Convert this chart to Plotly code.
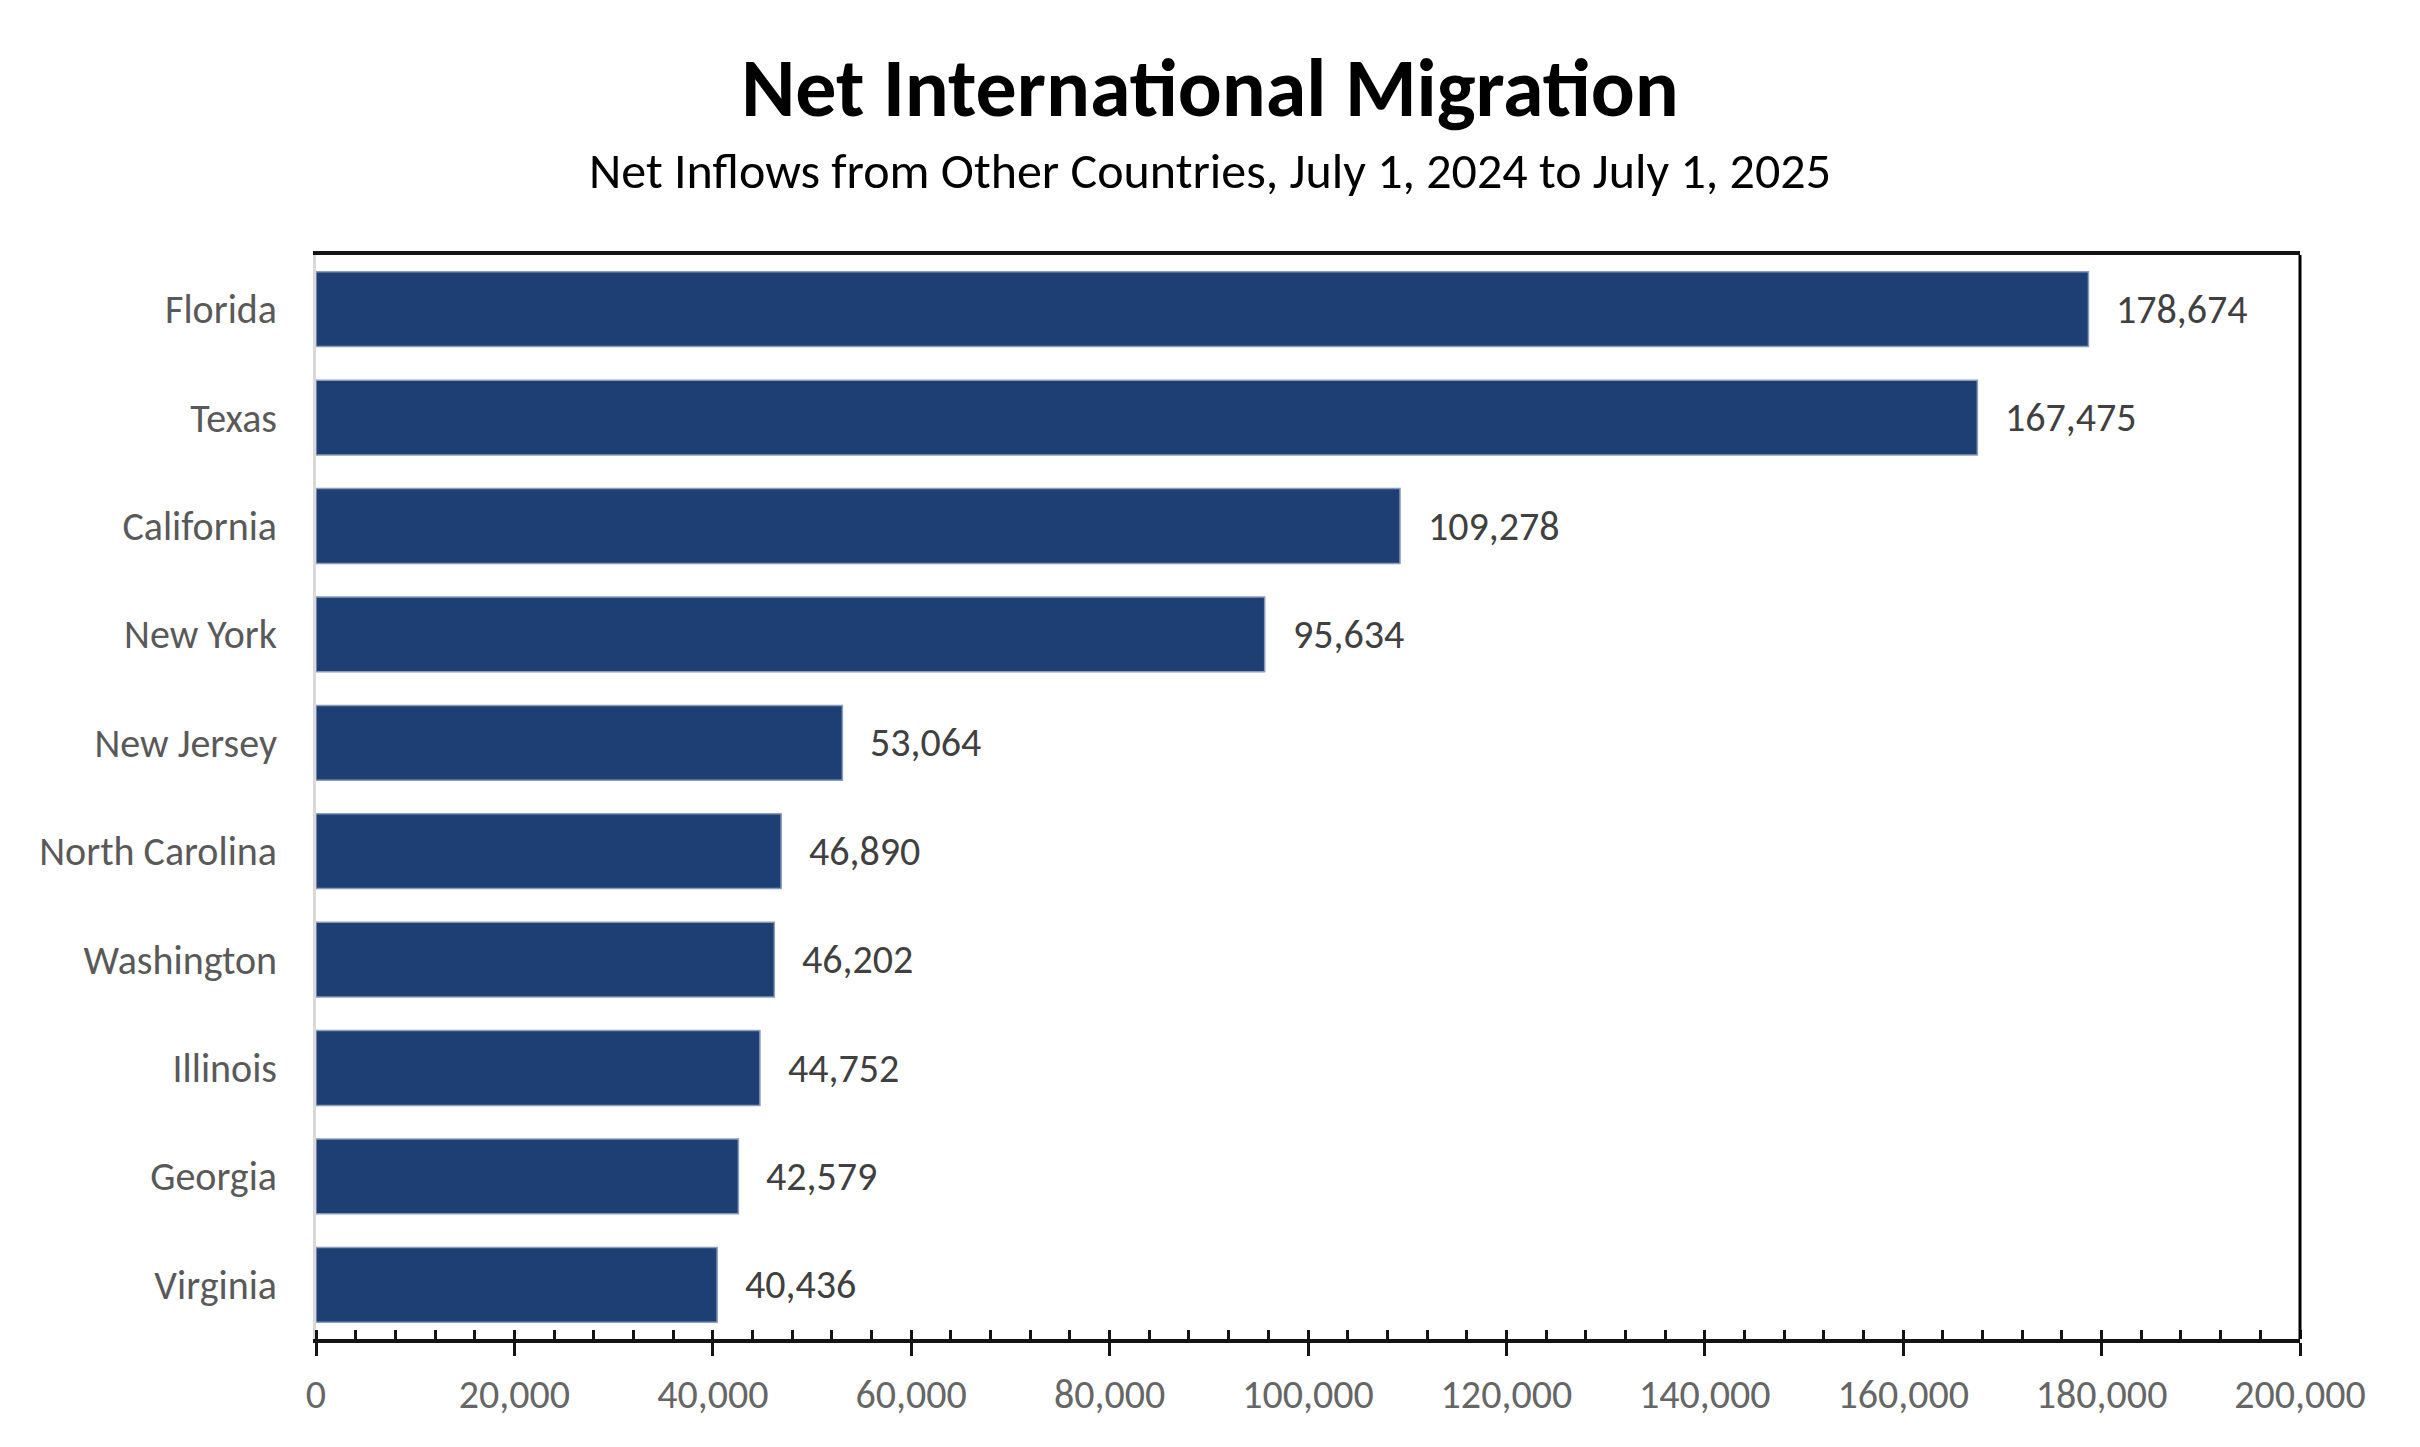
import plotly.graph_objects as go

states = ["Florida", "Texas", "California", "New York", "New Jersey",
          "North Carolina", "Washington", "Illinois", "Georgia", "Virginia"]
net_migration = [178674, 167475, 109278, 95634, 53064,
                 46890, 46202, 44752, 42579, 40436]
tick_values = [0, 20000, 40000, 60000, 80000, 100000, 120000, 140000, 160000, 180000, 200000]

FONT = "Calibri, Carlito, Lato, sans-serif"
W, H = 2404, 1431
ML, MR, MT, MB = 308, 112, 247, 100

fig = go.Figure()
fig.add_trace(go.Bar(
    x=net_migration, y=states, orientation="h",
    marker=dict(color="#1E3F73", line=dict(color="#8A9CBA", width=1.5)),
    hoverinfo="skip",
))

for s, v in zip(states, net_migration):
    fig.add_annotation(x=v, y=s, xref="x", yref="y", text=f"{v:,}",
                       showarrow=False, xanchor="left", yanchor="middle",
                       xshift=26, font=dict(family=FONT, size=40, color="#404040"))

fig.update_layout(
    width=W, height=H,
    paper_bgcolor="white", plot_bgcolor="white",
    margin=dict(l=ML, r=MR, t=MT, b=MB, autoexpand=False),
    bargap=0.31,
    showlegend=False,
    title=dict(text="<b>Net International Migration</b>", x=0.5, xanchor="center",
               xref="container",
               y=1 - 79 / H, yanchor="middle", yref="container",
               font=dict(family=FONT, size=82, color="#000000")),
    xaxis=dict(range=[0, 200000], tickvals=tick_values, tickformat=",d",
               showgrid=False, zeroline=False,
               showline=True, linecolor="#141414", linewidth=3.5, mirror=True,
               ticks="outside", ticklen=13, tickwidth=2.5, tickcolor="#141414",
               minor=dict(dtick=4000, ticks="inside", ticklen=9, tickwidth=2.5,
                          tickcolor="#141414", showgrid=False),
               tickfont=dict(family=FONT, size=40, color="#666666"),
               ticklabelstandoff=4, fixedrange=True),
    xaxis2=dict(overlaying="x", matches="x", anchor="y", side="bottom",
                range=[0, 200000], tickvals=tick_values, showticklabels=False,
                ticks="inside", ticklen=12, tickwidth=2.5, tickcolor="#141414",
                showline=False, showgrid=False, zeroline=False),
    yaxis=dict(categoryorder="array", categoryarray=states, autorange="reversed",
               showgrid=False, zeroline=False,
               showline=True, linecolor="#D9D9D9", linewidth=3,
               ticks="", ticklabelstandoff=28,
               tickfont=dict(family=FONT, size=40, color="#595959"), fixedrange=True),
)

fig.add_annotation(text="Net Inflows from Other Countries, July 1, 2024 to July 1, 2025",
                   xref="paper", yref="paper", x=(W / 2 - ML) / (W - ML - MR),
                   y=1 + (MT - 162) / (H - MT - MB), xanchor="center", yanchor="middle",
                   showarrow=False, font=dict(family=FONT, size=50, color="#000000"))

fig.add_shape(type="line", xref="paper", yref="paper", x0=1, x1=1, y0=0, y1=1,
              line=dict(color="#000000", width=3))

fig.write_html("out.html")
